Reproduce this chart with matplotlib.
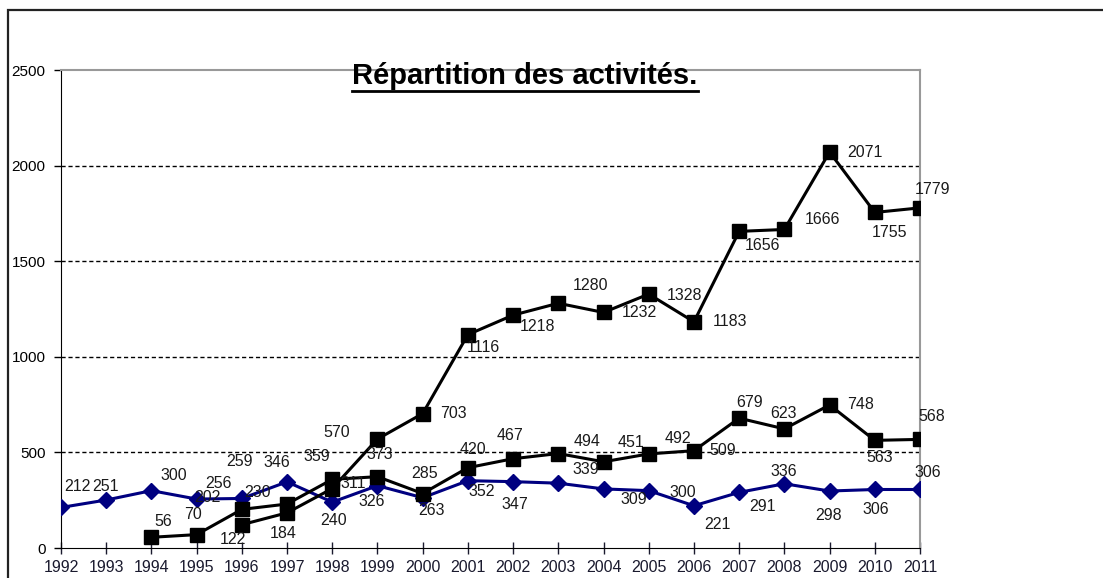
import matplotlib
matplotlib.use("Agg")
import matplotlib.pyplot as plt
from matplotlib.patches import Rectangle
from matplotlib.lines import Line2D

plt.rcParams['font.family'] = ['Liberation Sans', 'DejaVu Sans']

# data
years_blue = list(range(1992, 2012))
blue_vals = [212, 251, 300, 256, 259, 346, 240, 326, 263, 352,
             347, 339, 309, 300, 221, 291, 336, 298, 306, 306]

years_mid = list(range(1994, 2012))
mid_vals = [56, 70, 202, 230, 359, 373, 285, 420, 467, 494,
            451, 492, 509, 679, 623, 748, 563, 568]

years_top = list(range(1996, 2012))
top_vals = [122, 184, 311, 570, 703, 1116, 1218, 1280, 1232, 1328,
            1183, 1656, 1666, 2071, 1755, 1779]

# label offsets in pixels (dx, dy with y pointing down as in the picture)
blue_off = [(16, -21), (-1, -14), (22, -15), (22, -16), (-2, -37), (-10, -19),
            (1, 18), (-6, 16), (9, 13), (14, 11), (2, 23), (27, -14), (30, 11),
            (34, 2), (23, 19), (23, 14), (-1, -12), (-1, 24), (1, 20), (8, -17)]
mid_off = [(12, -16), (-4, -20), (-34, -12), (-30, -12), (-15, -23), (2, -22),
           (2, -20), (5, -18), (-3, -23), (29, -12), (27, -19), (29, -15),
           (29, 0), (10, -16), (-1, -15), (31, 0), (5, 17), (12, -23)]
top_off = [(-9, 15), (-4, 21), (21, -5), (-41, -7), (31, 0), (15, 13), (24, 11),
           (32, -18), (36, 0), (36, 1), (36, 0), (23, 14), (38, -10), (35, 0),
           (15, 20), (13, -18)]

fig = plt.figure(figsize=(11.03, 5.78), dpi=100)
ax = fig.add_axes([61 / 1103, 1 - 548 / 578, (920 - 61) / 1103, (548 - 70) / 578])

# outer chart frame (only top and left visible)
fig.patches.append(Rectangle((8 / 1103, -0.1), 1.2, 1.1 - 10 / 578,
                             transform=fig.transFigure, fill=False,
                             ec='#222222', lw=1.6))

for y in [500, 1000, 1500, 2000]:
    ax.axhline(y, color='black', lw=1, ls=(0, (3, 2)), zorder=1)

ax.plot(years_blue, blue_vals, color='#000080', marker='D', markersize=8.5,
        lw=2.2, zorder=3)
ax.plot(years_mid, mid_vals, color='black', marker='s', markersize=9.5,
        lw=2.2, zorder=3)
ax.plot(years_top, top_vals, color='black', marker='s', markersize=9.5,
        lw=2.2, zorder=3)

for xs, vs, offs in [(years_blue, blue_vals, blue_off),
                     (years_mid, mid_vals, mid_off),
                     (years_top, top_vals, top_off)]:
    for x, v, (dx, dy) in zip(xs, vs, offs):
        ax.annotate(str(v), (x, v), xytext=(dx, -dy), textcoords='offset pixels',
                    ha='center', va='center', fontsize=11.5, color='#1a1a1a',
                    zorder=4)

ax.set_xlim(1992, 2011)
ax.set_ylim(0, 2500)
ax.set_xticks(years_blue)
ax.set_xticklabels([str(y) for y in years_blue])
ax.set_yticks([0, 500, 1000, 1500, 2000, 2500])
ax.tick_params(axis='x', direction='inout', length=9, width=1, labelsize=11.5,
               pad=4, colors='#1a1a2e')
ax.tick_params(axis='y', direction='out', length=5, width=1, labelsize=11,
               pad=6)
ax.spines['left'].set_color('black')
ax.spines['bottom'].set_color('black')
ax.spines['top'].set_color('#999999')
ax.spines['right'].set_color('#999999')
ax.spines['top'].set_linewidth(1.5)
ax.spines['right'].set_linewidth(1.5)

title = fig.text(525 / 1103, 1 - 76 / 578, "Répartition des activités.",
                 ha='center', va='center', fontsize=21, fontweight='bold')

# underline the title
fig.canvas.draw()
bb = title.get_window_extent().transformed(fig.transFigure.inverted())
fig.lines.append(Line2D([bb.x0, bb.x1], [bb.y0 - 0.001, bb.y0 - 0.001],
                        transform=fig.transFigure, color='black', lw=2))

fig.savefig("out.png", dpi=100)
